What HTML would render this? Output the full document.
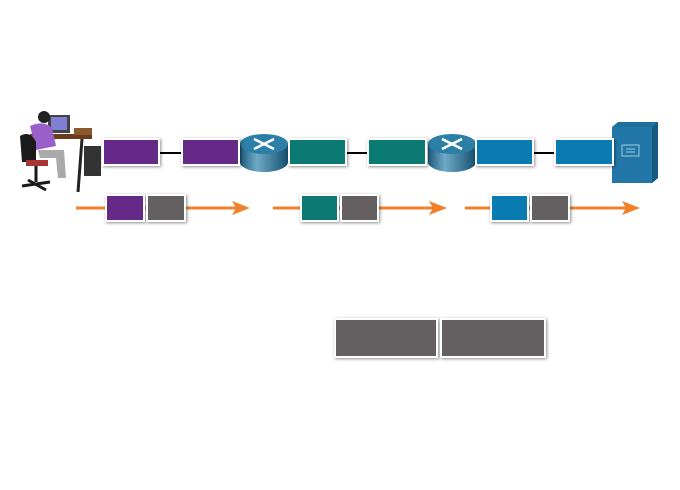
<!DOCTYPE html>
<html><head><style>
body{margin:0;width:680px;height:490px;background:#fff;position:relative;overflow:hidden}
.b{position:absolute;box-sizing:border-box;border:2px solid #fff;box-shadow:1px 1px 3px rgba(0,0,0,.45)}
.p{background:#652a87}.t{background:#0b7a72}.u{background:#0a7bb0}.g{background:#646061}
</style></head><body>
<svg width="680" height="490" style="position:absolute;left:0;top:0">
<defs>
<linearGradient id="rg" x1="0" x2="1"><stop offset="0" stop-color="#1d5a7c"/><stop offset=".35" stop-color="#6fa9c6"/><stop offset="1" stop-color="#15506f"/></linearGradient>
</defs>
<g stroke="#000" stroke-width="2"><line x1="159" y1="153" x2="181" y2="153"/><line x1="346" y1="153" x2="368" y2="153"/><line x1="533" y1="153" x2="555" y2="153"/></g>
<g stroke="#f0812a" stroke-width="3">
<line x1="76" y1="208" x2="240" y2="208"/><line x1="273" y1="208" x2="437" y2="208"/><line x1="465" y1="208" x2="630" y2="208"/></g>
<g fill="#f0812a"><path d="M250 208 L232 201 L236 208 L232 215Z"/><path d="M447 208 L429 201 L433 208 L429 215Z"/><path d="M640 208 L622 201 L626 208 L622 215Z"/></g>
<!-- routers -->
<g id="r"><path d="M240 144 V162 A24 10 0 0 0 288 162 V144Z" fill="url(#rg)"/><ellipse cx="264" cy="144" rx="24" ry="10" fill="#2c7fa6"/>
<g stroke="#fff" stroke-width="2.5"><line x1="254" y1="139" x2="274" y2="149"/><line x1="274" y1="139" x2="254" y2="149"/></g></g>
<use href="#r" x="188"/>
<!-- server -->
<path d="M612 127 L618 122 L658 122 L658 178 L652 183 L612 183Z" fill="#1f6f9d"/>
<path d="M652 127 L658 122 L658 178 L652 183Z" fill="#175a80"/>
<rect x="612" y="127" width="40" height="56" fill="#2377a8"/>
<rect x="622" y="145" width="17" height="11" fill="none" stroke="#9cc8e0" stroke-width="1"/>
<line x1="626" y1="149" x2="635" y2="149" stroke="#9cc8e0"/><line x1="626" y1="152" x2="635" y2="152" stroke="#9cc8e0"/>
<!-- person/desk -->
<rect x="48" y="115" width="22" height="18" fill="#444"/><rect x="51" y="117" width="16" height="13" fill="#7f7fd6"/>
<rect x="30" y="134" width="62" height="5" fill="#6b3b1c"/><rect x="74" y="128" width="18" height="7" fill="#8a5a2e"/>
<rect x="84" y="146" width="17" height="30" fill="#333"/>
<line x1="82" y1="139" x2="78" y2="192" stroke="#222" stroke-width="3"/>
<circle cx="44" cy="117" r="6" fill="#222"/>
<path d="M30 126 Q44 120 52 128 L56 146 L36 150Z" fill="#9a5fc9"/>
<path d="M38 150 L64 150 L66 178 L58 178 L56 158 L40 158Z" fill="#aaa"/>
<path d="M20 136 Q30 130 36 142 L36 162 L22 162Z" fill="#1a1a1a"/>
<rect x="26" y="160" width="22" height="6" fill="#a33" />
<g stroke="#1a1a1a" stroke-width="3"><line x1="36" y1="166" x2="36" y2="182"/><line x1="22" y1="186" x2="50" y2="182"/><line x1="28" y1="180" x2="46" y2="190"/></g>
</svg>
<div class="b p" style="left:102px;top:138px;width:58px;height:28px"></div>
<div class="b p" style="left:181px;top:138px;width:59px;height:28px"></div>
<div class="b t" style="left:288px;top:138px;width:59px;height:28px"></div>
<div class="b t" style="left:367px;top:138px;width:60px;height:28px"></div>
<div class="b u" style="left:475px;top:138px;width:59px;height:28px"></div>
<div class="b u" style="left:554px;top:138px;width:60px;height:28px"></div>
<div class="b p" style="left:105px;top:194px;width:40px;height:28px"></div>
<div class="b g" style="left:146px;top:194px;width:40px;height:28px"></div>
<div class="b t" style="left:300px;top:194px;width:39px;height:28px"></div>
<div class="b g" style="left:340px;top:194px;width:39px;height:28px"></div>
<div class="b u" style="left:490px;top:194px;width:39px;height:28px"></div>
<div class="b g" style="left:530px;top:194px;width:40px;height:28px"></div>
<div class="b g" style="left:334px;top:318px;width:104px;height:40px"></div>
<div class="b g" style="left:440px;top:318px;width:106px;height:40px"></div>
</body></html>
